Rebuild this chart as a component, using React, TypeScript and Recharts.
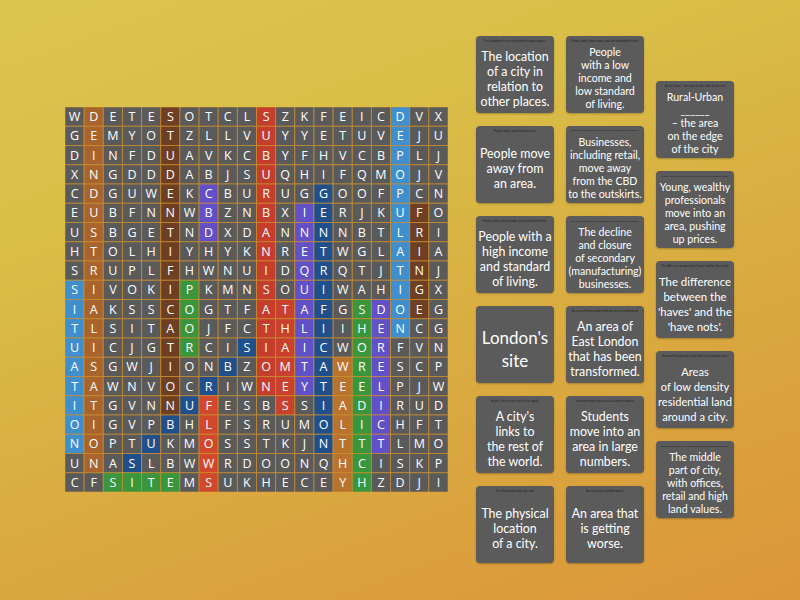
import React from 'react';
import { ScatterChart, Scatter, XAxis, YAxis } from 'recharts';

// word search grid, one string per row
const gridRows = [
  "WDETESOTCLSZKFEICDVX",
  "GEMYOTZLLVUYYETUVEJU",
  "DINFDUAVKCBYFHVCBPLJ",
  "XNGDDDABJSUQHIFQMOJV",
  "CDGUWEKCBURUGGOOFPCN",
  "EUBFNNWBZNBXIERJKUFO",
  "USBGETNDXDANNNNBTLRI",
  "HTOLHIYHYKNRETWGLAIA",
  "SRUPLFHWNUIDQRQTJTNJ",
  "SIVOKIPKMNSOUIWAHIGX",
  "IAKSSCOGTFATAFGSDOEG",
  "TLSITAOJFCTHLIIHENCG",
  "UICJGTRCISIAICWORFVN",
  "ASGWJIONBZOMTAWRESCP",
  "TAWNVOCRIWNEYTEELPJW",
  "ITGVNNUFESBSSIADIRUD",
  "OIGVPBHLFSRUMOLICHFT",
  "NOPTUKMOSSTKJNTTTLMO",
  "UNASLBWWRDOONQHCISKP",
  "CFSITEMSUKHECEYHZDJI",
];

// found words: start row/col, step, colour
const foundWords = [
  { word: "DEINDUSTRIALISATION", row: 0, col: 1, dr: 1, dc: 0, color: "#a8642c" },
  { word: "STUDENTIFICATION", row: 0, col: 5, dr: 1, dc: 0, color: "#6e3f22" },
  { word: "SITUATION", row: 9, col: 0, dr: 1, dc: 0, color: "#3f8fce" },
  { word: "SUBURBANISATION", row: 0, col: 10, dr: 1, dc: 0, color: "#c53d2b" },
  { word: "THAMES", row: 10, col: 11, dr: 1, dc: 0, color: "#c9402d" },
  { word: "INEQUALITY", row: 5, col: 12, dr: 1, dc: 0, color: "#6150c8" },
  { word: "GENTRIFICATION", row: 4, col: 13, dr: 1, dc: 0, color: "#1f4f8c" },
  { word: "DEPOPULATION", row: 0, col: 17, dr: 1, dc: 0, color: "#3f8fce" },
  { word: "FRINGE", row: 5, col: 18, dr: 1, dc: 0, color: "#6e3f22" },
  { word: "CBD", row: 4, col: 7, dr: 1, dc: 0, color: "#6150c8" },
  { word: "POOR", row: 9, col: 6, dr: 1, dc: 0, color: "#3a963c" },
  { word: "SITE", row: 19, col: 2, dr: 0, dc: 1, color: "#3a963c" },
  { word: "SUBURBS", row: 18, col: 3, dr: -1, dc: 1, color: "#1f4f8c" },
  { word: "FLOWS", row: 15, col: 7, dr: 1, dc: 0, color: "#d2482a" },
  { word: "WEALTHY", row: 13, col: 14, dr: 1, dc: 0, color: "#b9732c" },
  { word: "SHOREDITCH", row: 10, col: 15, dr: 1, dc: 0, color: "#3a963c" },
  { word: "DERELICT", row: 10, col: 16, dr: 1, dc: 0, color: "#6150c8" },
];

// clue cards, column by column
const cardsCol1 = [
  ["The location", "of a city in", "relation to", "other places."],
  ["People move", "away from", "an area."],
  ["People with a", "high income", "and standard", "of living."],
  ["London's", "site"],
  ["A city's", "links to", "the rest of", "the world."],
  ["The physical", "location", "of a city."],
];
const cardsCol2 = [
  ["People", "with a low", "income and", "low standard", "of living."],
  ["Businesses,", "including retail,", "move away", "from the CBD", "to the outskirts."],
  ["The decline", "and closure", "of secondary", "(manufacturing)", "businesses."],
  ["An area of", "East London", "that has been", "transformed."],
  ["Students", "move into an", "area in large", "numbers."],
  ["An area that", "is getting", "worse."],
];
const cardsCol3 = [
  ["Rural-Urban", "______", "– the area", "on the edge", "of the city"],
  ["Young, wealthy", "professionals", "move into an", "area, pushing", "up prices."],
  ["The difference", "between the", "'haves' and the", "'have nots'."],
  ["Areas", "of low density", "residential land", "around a city."],
  ["The middle", "part of city,", "with offices,", "retail and high", "land values."],
];

const GRID_W = 383;
const GRID_H = 385;
const CELL_W = GRID_W / 20;
const CELL_H = GRID_H / 20;
const CARD_W = 78;
const CARD_FONT = "Lato, sans-serif";

const colorAt: Record<string, string> = {};
foundWords.forEach((w) => {
  for (let i = 0; i < w.word.length; i++) {
    colorAt[`${w.row + i * w.dr}-${w.col + i * w.dc}`] = w.color;
  }
});

const cells = gridRows.flatMap((r, ri) =>
  r.split("").map((ch, ci) => ({
    x: ci + 0.5,
    y: ri + 0.5,
    letter: ch,
    color: colorAt[`${ri}-${ci}`] || "#5a5a5a",
  }))
);

let measureCtx: CanvasRenderingContext2D | null = null;
function textWidth(s: string, size: number) {
  if (!measureCtx) measureCtx = document.createElement('canvas').getContext('2d');
  if (!measureCtx) return s.length * size * 0.5;
  measureCtx.font = `${size}px ${CARD_FONT}`;
  return measureCtx.measureText(s).width;
}

// largest size (up to base) at which every line fits in maxW
function fitSize(lines: string[], base: number, maxW: number) {
  let size = base;
  lines.forEach((l) => {
    const w = textWidth(l, base);
    if (w > maxW) size = Math.min(size, (base * maxW) / w);
  });
  return size;
}

const LetterCell = (props: any) => {
  const { cx, cy, payload } = props;
  if (cx == null || cy == null) return null;
  return (
    <g>
      <rect
        x={cx - CELL_W / 2}
        y={cy - CELL_H / 2}
        width={CELL_W}
        height={CELL_H}
        fill={payload.color}
        stroke="#c98d30"
        strokeOpacity={0.75}
        strokeWidth={1}
      />
      <text
        x={cx}
        y={cy + 4.5}
        textAnchor="middle"
        fill="#ffffff"
        fontSize={12.5}
        fontFamily="'Open Sans', sans-serif"
      >
        {payload.letter}
      </text>
    </g>
  );
};

function Card({ lines, left, top, big }: { lines: string[]; left: number; top: number; big?: boolean }) {
  const n = lines.length;
  const base = big ? 17 : n >= 5 ? 10.6 : 12.4;
  const fs = fitSize(lines, base, CARD_W - 4);
  const lh = big ? 23 : n >= 5 ? 13 : 15;
  const hint = lines.filter((l) => !l.startsWith('_')).join(' ');
  const hintSize = Math.min(6, fitSize([hint], 6, (CARD_W - 10) * 2));
  return (
    <div
      style={{
        position: 'absolute',
        left,
        top,
        width: CARD_W,
        height: 77,
        background: '#5b5b5b',
        borderRadius: 4,
        boxShadow: '0 1px 2px rgba(0,0,0,0.25)',
        color: '#ffffff',
        fontFamily: CARD_FONT,
        textAlign: 'center',
      }}
    >
      {!big && (
        <div
          style={{
            position: 'absolute',
            left: 5,
            top: 3,
            width: (CARD_W - 10) * 2,
            fontSize: hintSize,
            lineHeight: '6px',
            color: '#222',
            whiteSpace: 'nowrap',
            transform: 'scale(0.5)',
            transformOrigin: '0 0',
            textAlign: 'center',
          }}
        >
          {hint}
        </div>
      )}
      <div
        style={{
          position: 'absolute',
          left: 0,
          right: 0,
          top: 8,
          bottom: 0,
          display: 'flex',
          flexDirection: 'column',
          justifyContent: 'center',
          fontSize: fs,
          lineHeight: `${lh}px`,
        }}
      >
        {lines.map((l, i) => (
          <div key={i} style={{ whiteSpace: 'nowrap', height: lh }}>{l}</div>
        ))}
      </div>
    </div>
  );
}

export default function App() {
  return (
    <div
      style={{
        position: 'absolute',
        left: 0,
        top: 0,
        width: 800,
        height: 600,
        overflow: 'hidden',
        background: 'linear-gradient(160deg, #dcc54f 0%, #d9bd47 30%, #d9ab40 60%, #dc963a 100%)',
      }}
    >
      <div style={{ position: 'absolute', left: 65, top: 107 }}>
        <ScatterChart width={GRID_W} height={GRID_H} margin={{ top: 0, right: 0, bottom: 0, left: 0 }}>
          <XAxis type="number" dataKey="x" domain={[0, 20]} hide />
          <YAxis type="number" dataKey="y" domain={[0, 20]} reversed hide />
          <Scatter data={cells} shape={<LetterCell />} isAnimationActive={false} />
        </ScatterChart>
      </div>
      {cardsCol1.map((c, i) => (
        <Card key={`a${i}`} lines={c} left={476} top={36 + i * 90} big={i === 3} />
      ))}
      {cardsCol2.map((c, i) => (
        <Card key={`b${i}`} lines={c} left={566} top={36 + i * 90} />
      ))}
      {cardsCol3.map((c, i) => (
        <Card key={`c${i}`} lines={c} left={656} top={81 + i * 90} />
      ))}
    </div>
  );
}
